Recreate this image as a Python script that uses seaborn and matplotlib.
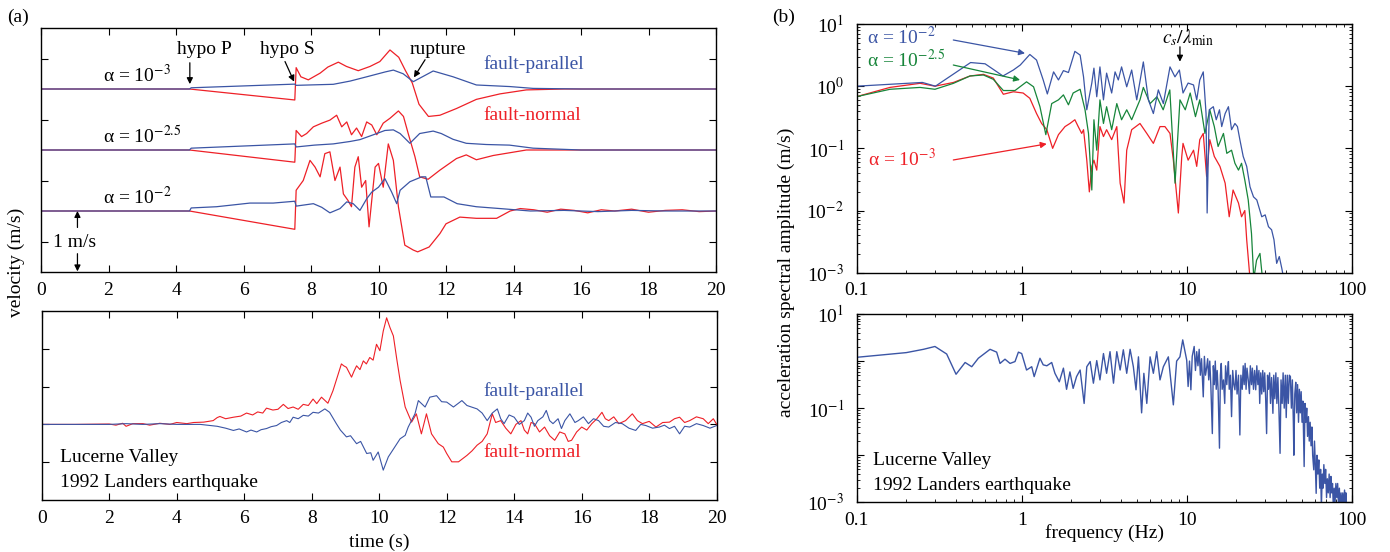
import numpy as np
import pandas as pd
import matplotlib
matplotlib.use("Agg")
import matplotlib.pyplot as plt
import seaborn as sns
from matplotlib.ticker import FixedLocator, FixedFormatter, LogLocator, NullFormatter

BLUE = "#3b55a5"
RED = "#ee2027"
GREEN = "#17853a"

# ---- (a) simulated velocity, (time s, velocity m/s) ----
a3_parallel = [(0, 0), (4.40, 0), (4.45, 0.02), (7.52, 0.08), (7.56, 0.06), (8.66, 0.077),
               (9.16, 0.13), (9.65, 0.2), (10.2, 0.28), (10.44, 0.31), (10.73, 0.25),
               (11.03, 0.12), (11.3, 0.2), (11.62, 0.295), (12.21, 0.2), (12.9, 0.066),
               (13.89, 0.04), (14.58, 0.01), (16, 0), (20, 0)]
a3_normal = [(0, 0), (4.40, 0), (7.52, -0.18), (7.56, 0.35), (7.70, 0.2), (7.92, 0.15),
             (8.27, 0.26), (8.5, 0.36), (8.81, 0.44), (9.05, 0.37), (9.40, 0.3), (9.75, 0.37),
             (10.04, 0.45), (10.34, 0.64), (10.6, 0.52), (10.8, 0.3), (11.0, 0.1),
             (11.2, -0.25), (11.48, -0.45), (11.82, -0.43), (12.31, -0.32), (12.9, -0.17),
             (13.6, -0.08), (14.38, -0.015), (15.5, 0), (20, 0)]
a25_parallel = [(0, 0), (4.40, 0), (4.45, 0.03), (7.52, 0.1), (7.56, 0.05), (8.1, 0.08),
                (8.66, 0.1), (9.16, 0.14), (9.45, 0.17), (9.85, 0.25), (10.19, 0.32),
                (10.44, 0.33), (10.64, 0.27), (10.93, 0.11), (11.22, 0.27), (11.62, 0.31),
                (11.86, 0.27), (12.21, 0.175), (12.6, 0.11), (13.19, 0.09), (13.88, 0.08),
                (14.58, 0.03), (16, 0), (20, 0)]
a25_normal = [(0, 0), (4.40, 0), (7.52, -0.2), (7.56, 0.32), (7.72, 0.22), (7.87, 0.27),
              (8.07, 0.38), (8.32, 0.44), (8.56, 0.49), (8.76, 0.57), (8.91, 0.38), (9.06, 0.46),
              (9.2, 0.25), (9.35, 0.36), (9.5, 0.22), (9.65, 0.46), (9.8, 0.41), (9.95, 0.25),
              (10.14, 0.44), (10.34, 0.52), (10.59, 0.64), (10.74, 0.55), (10.88, 0.27),
              (11.08, -0.11), (11.22, -0.44), (11.47, -0.48), (11.82, -0.33), (12.31, -0.14),
              (12.6, -0.08), (12.9, -0.16), (13.4, -0.09), (14.38, 0), (16, 0), (20, 0)]
a2_parallel = [(0, 0), (4.40, 0), (4.45, 0.05), (5.2, 0.07), (5.7, 0.1), (6.19, 0.13),
               (6.88, 0.13), (7.52, 0.16), (7.56, 0.08), (8.07, 0.12), (8.32, 0.06),
               (8.56, -0.03), (8.86, 0.04), (9.06, 0.15), (9.25, 0.12), (9.45, 0.01),
               (9.65, 0.2), (9.8, 0.31), (10.0, 0.39), (10.19, 0.53), (10.39, 0.31),
               (10.54, 0.12), (10.64, 0.34), (10.93, 0.48), (11.28, 0.56), (11.4, 0.56),
               (11.55, 0.23), (11.94, 0.23), (12.33, 0.12), (12.9, 0.07), (13.6, 0.04),
               (14.5, 0.0), (15.5, 0.01), (16.5, -0.01), (17.5, 0.01), (18.5, 0.0), (20, 0)]
a2_normal = [(0, 0), (4.40, 0), (7.52, -0.3), (7.56, 0.34), (7.77, 0.5), (7.97, 0.83),
             (8.12, 0.72), (8.27, 0.56), (8.41, 0.94), (8.56, 0.97), (8.71, 0.5), (8.86, 0.72),
             (8.96, 0.28), (9.1, 0.17), (9.2, 0.07), (9.3, 0.72), (9.4, 0.89), (9.5, 0.39),
             (9.62, 0.5), (9.72, -0.26), (9.9, 0.72), (10.0, 0.78), (10.14, 0.39), (10.29, 1.1),
             (10.44, 0.83), (10.59, 0.07), (10.78, -0.56), (11.03, -0.64), (11.16, -0.67),
             (11.5, -0.59), (11.82, -0.37), (12.0, -0.21), (12.41, -0.1), (12.9, -0.12),
             (13.5, -0.12), (13.9, 0.0), (14.2, 0.04), (14.6, 0.02), (15.0, -0.02),
             (15.4, 0.03), (15.8, 0.01), (16.2, -0.03), (16.6, 0.02), (17.0, 0.0),
             (17.5, 0.03), (18.0, -0.02), (18.5, 0.01), (19.0, 0.02), (19.5, -0.01), (20, 0)]

# ---- (a) recorded velocity, Lucerne Valley ----
rec_parallel = [(0, 0), (2, 0.0), (2.5, 0.02), (3, 0.0), (3.5, 0.02), (4, 0.0), (4.7, 0),
                (5.2, -0.05), (5.45, -0.1), (5.68, -0.16), (5.85, -0.12), (6.07, -0.2),
                (6.2, -0.15), (6.37, -0.2), (6.5, -0.14), (6.66, -0.11), (6.8, -0.06),
                (6.96, -0.03), (7.1, 0.05), (7.26, 0.1), (7.35, 0.05), (7.45, 0.19),
                (7.6, 0.15), (7.75, 0.24), (7.9, 0.22), (8.04, 0.32), (8.2, 0.3), (8.39, 0.41),
                (8.53, 0.32), (8.73, 0.02), (8.85, -0.15), (9.03, -0.33), (9.15, -0.3),
                (9.33, -0.51), (9.45, -0.45), (9.63, -0.77), (9.75, -0.75), (9.82, -0.95),
                (9.97, -0.73), (10.12, -1.21), (10.27, -0.86), (10.46, -0.6), (10.62, -0.38),
                (10.77, -0.29), (10.86, -0.07), (11.06, 0.28), (11.16, 0.63), (11.36, 0.46),
                (11.5, 0.72), (11.7, 0.76), (11.85, 0.6), (12.0, 0.59), (12.2, 0.46),
                (12.45, 0.63), (12.6, 0.5), (12.9, 0.41), (13.05, 0.3), (13.2, 0.1),
                (13.35, 0.3), (13.5, 0.41), (13.6, 0.15), (13.7, 0.02), (13.85, 0.25),
                (14.0, 0.19), (14.15, 0.0), (14.3, 0.1), (14.4, 0.3), (14.5, 0.19), (14.6, -0.05),
                (14.7, 0.1), (14.85, 0.2), (14.95, 0.37), (15.05, 0.1), (15.15, 0.02),
                (15.3, 0.15), (15.4, -0.11), (15.5, 0.1), (15.65, 0.28), (15.8, 0.05),
                (15.9, 0.1), (16.05, 0.2), (16.2, 0.02), (16.35, 0.15), (16.5, 0.1),
                (16.65, -0.05), (16.8, -0.07), (17.0, 0.05), (17.2, 0.02), (17.4, -0.1),
                (17.6, -0.16), (17.75, 0.0), (17.9, -0.03), (18.1, -0.1), (18.3, -0.07),
                (18.45, -0.02), (18.6, -0.11), (18.75, -0.05), (18.9, -0.25), (19.05, -0.05),
                (19.2, -0.07), (19.4, 0.02), (19.6, -0.03), (19.8, -0.1), (20.0, -0.03)]
rec_normal = [(0, 0), (1.0, 0), (2.0, 0.01), (2.2, -0.02), (2.4, 0.03), (2.5, -0.05),
              (2.7, 0.02), (3.0, 0.02), (3.2, -0.02), (3.5, 0.03), (3.8, 0.0), (4.0, 0.05),
              (4.3, 0.02), (4.5, 0.05), (4.8, 0.06), (5.08, 0.1), (5.2, 0.18), (5.28, 0.21),
              (5.45, 0.15), (5.68, 0.19), (5.9, 0.22), (6.07, 0.3), (6.25, 0.25), (6.4, 0.33),
              (6.55, 0.3), (6.66, 0.43), (6.85, 0.38), (7.0, 0.4), (7.16, 0.53), (7.3, 0.42),
              (7.45, 0.46), (7.6, 0.4), (7.75, 0.53), (7.9, 0.5), (8.04, 0.67), (8.15, 0.55),
              (8.29, 0.72), (8.48, 0.56), (8.63, 0.89), (8.88, 1.6), (8.95, 1.55), (9.03, 1.51),
              (9.18, 1.25), (9.25, 1.4), (9.33, 1.55), (9.43, 1.45), (9.53, 1.68), (9.62, 1.6),
              (9.72, 1.77), (9.82, 1.7), (9.92, 2.12), (10.02, 1.95), (10.12, 2.47),
              (10.22, 2.82), (10.32, 2.56), (10.42, 2.34), (10.52, 1.73), (10.62, 1.16),
              (10.77, 0.46), (10.96, 0.06), (11.1, 0.28), (11.25, -0.25), (11.4, 0.28),
              (11.55, -0.25), (11.75, -0.51), (11.9, -0.6), (12.0, -0.77), (12.15, -0.99),
              (12.35, -0.99), (12.6, -0.82), (12.75, -0.7), (12.9, -0.55), (13.05, -0.45),
              (13.2, -0.25), (13.35, 0.28), (13.45, 0.05), (13.6, 0.1), (13.75, -0.1),
              (13.9, -0.25), (14.05, 0.0), (14.2, 0.1), (14.3, -0.15), (14.4, -0.25),
              (14.5, 0.05), (14.6, 0.02), (14.75, -0.2), (14.9, -0.07), (15.05, -0.3),
              (15.2, -0.42), (15.35, -0.2), (15.5, -0.25), (15.6, -0.45), (15.7, -0.42),
              (15.85, -0.2), (16.0, -0.07), (16.15, -0.15), (16.3, 0.02), (16.45, 0.15),
              (16.6, 0.32), (16.7, 0.15), (16.8, 0.1), (16.95, 0.2), (17.1, 0.02), (17.3, 0.1),
              (17.5, 0.28), (17.65, 0.1), (17.8, 0.02), (18.0, 0.08), (18.2, -0.07),
              (18.4, 0.05), (18.6, 0.06), (18.75, 0.15), (18.9, 0.19), (19.05, 0.05),
              (19.2, 0.1), (19.4, 0.2), (19.6, 0.15), (19.75, 0.02), (19.9, 0.15), (20.0, 0.0)]

# ---- (b) spectra, (frequency Hz, log10 amplitude m/s) ----
spec_a2 = [(0.10, 0.0), (0.25, 0.06), (0.30, 0.0), (0.49, 0.38), (0.60, 0.36), (0.77, 0.164),
           (0.89, 0.26), (0.98, 0.34), (1.12, 0.51), (1.23, 0.42), (1.35, 0.1), (1.43, -0.125),
           (1.56, 0.23), (1.67, 0.1), (1.79, 0.25), (1.92, 0.22), (2.1, 0.56), (2.26, 0.5),
           (2.37, 0.15), (2.48, -0.38), (2.66, 0.05), (2.74, 0.29), (2.85, -0.17), (2.98, 0.31),
           (3.13, -0.22), (3.27, 0.21), (3.51, -0.11), (3.68, 0.23), (3.85, 0.1), (4.03, 0.31),
           (4.33, -0.01), (4.64, 0.26), (4.98, -0.22), (5.46, 0.39), (5.86, -0.22),
           (6.28, -0.44), (6.73, -0.06), (7.22, -0.28), (7.92, 0.31), (8.49, 0.15), (9.03, 0.26),
           (9.5, -0.11), (10.2, 0.05), (11.0, 0.02), (11.5, -0.22), (12.0, 0.1), (12.6, 0.23),
           (13.1, -0.44), (13.3, -2.04), (13.7, -0.38), (14.5, -0.33), (15.1, -0.54),
           (15.8, -0.38), (16.3, -0.65), (17.1, -0.44), (17.9, -0.33), (18.7, -0.7),
           (19.6, -0.6), (20.3, -0.65), (21.0, -0.86), (22.0, -1.13), (23.1, -1.29),
           (24.2, -1.62), (25.4, -1.78), (26.6, -1.83), (28.5, -2.1), (29.9, -2.07),
           (31.3, -2.26), (32.7, -2.31), (33.8, -2.47), (35.1, -2.85), (36.4, -2.74),
           (37.7, -2.93), (38.5, -3.06)]
spec_a25 = [(0.10, -0.168), (0.159, -0.05), (0.242, -0.02), (0.298, -0.05), (0.386, 0.046),
            (0.486, 0.164), (0.586, 0.18), (0.673, 0.11), (0.774, -0.07), (0.911, -0.07),
            (1.07, 0.07), (1.18, -0.01), (1.29, -0.33), (1.40, -0.78), (1.52, -0.28),
            (1.67, -0.22), (1.79, -0.14), (1.92, -0.3), (2.05, -0.11), (2.26, -0.05),
            (2.42, -0.38), (2.54, -0.76), (2.66, -1.67), (2.74, -0.54), (2.85, -1.03),
            (2.98, -0.22), (3.13, -0.6), (3.27, -0.33), (3.51, -0.7), (3.77, -0.28),
            (4.03, -0.54), (4.33, -0.38), (4.64, -0.54), (5.21, -0.22), (5.46, -0.02),
            (6.0, -0.28), (6.6, -0.17), (7.2, -0.38), (7.9, -0.06), (8.5, -1.56), (9.1, -0.22),
            (9.8, -0.38), (10.5, -0.11), (11.3, -0.49), (12.0, -0.22), (12.9, -0.76),
            (13.8, -0.38), (14.7, -0.65), (15.5, -0.97), (16.7, -0.76), (17.5, -1.08),
            (18.7, -1.03), (19.6, -1.24), (20.6, -1.35), (21.5, -1.24), (22.5, -1.51),
            (23.6, -1.83), (24.7, -2.37), (25.5, -3.1), (26.5, -2.8), (27.8, -2.69),
            (28.8, -3.1)]
spec_a3 = [(0.10, -0.168), (0.159, -0.02), (0.242, 0.046), (0.298, 0.0), (0.386, 0.06),
           (0.486, 0.164), (0.586, 0.19), (0.673, 0.13), (0.774, -0.13), (0.89, -0.09),
           (1.02, -0.11), (1.12, -0.195), (1.23, -0.44), (1.32, -0.6), (1.42, -0.7),
           (1.54, -1.0), (1.67, -0.78), (1.83, -0.65), (1.96, -0.6), (2.1, -0.54), (2.2, -0.65),
           (2.31, -0.76), (2.37, -0.7), (2.48, -1.19), (2.57, -1.7), (2.66, -1.29),
           (2.74, -1.19), (2.85, -1.35), (2.98, -0.65), (3.13, -0.81), (3.27, -0.7),
           (3.51, -0.86), (3.77, -0.65), (3.95, -1.56), (4.17, -1.88), (4.33, -1.03),
           (4.64, -0.7), (5.21, -0.6), (5.73, -0.76), (6.28, -0.92), (6.89, -0.65),
           (7.38, -0.65), (7.92, -0.76), (8.3, -1.19), (8.9, -2.04), (9.33, -1.14),
           (9.5, -0.92), (10.2, -1.19), (11.0, -1.03), (11.5, -1.29), (12.0, -0.86),
           (12.6, -0.76), (13.2, -1.45), (13.8, -0.86), (14.7, -1.13), (15.9, -1.29),
           (17.1, -1.56), (18.1, -2.1), (19.1, -1.67), (20.6, -1.88), (21.5, -2.1),
           (22.5, -2.0), (23.1, -2.47), (24.2, -3.1)]
spec_rec = [(0.1, 0.08), (0.2, 0.18), (0.254, 0.25), (0.298, 0.31), (0.351, 0.15), (0.4, -0.28),
            (0.454, -0.03), (0.498, -0.12), (0.546, 0.06), (0.643, 0.25), (0.705, 0.19),
            (0.739, -0.05), (0.792, 0.04), (0.85, -0.05), (0.911, -0.01), (0.955, 0.19),
            (1.0, 0.16), (1.07, -0.19), (1.15, -0.12), (1.19, -0.33), (1.29, 0.06),
            (1.35, -0.08), (1.42, -0.1), (1.52, -0.03), (1.59, -0.26), (1.69, -0.44),
            (1.79, -0.15), (1.87, -0.6), (1.96, -0.23), (2.05, -0.58), (2.15, -0.33),
            (2.26, -0.19), (2.39, -0.9), (2.48, -0.12), (2.6, -0.01), (2.72, -0.47),
            (2.85, 0.01), (2.98, -0.4), (3.13, 0.16), (3.27, -0.26), (3.43, 0.2), (3.6, -0.47),
            (3.77, 0.2), (3.95, -0.19), (4.13, 0.24), (4.33, -0.26), (4.54, 0.25),
            (4.75, -0.12), (4.93, -0.61), (5.1, 0.09), (5.33, -1.1), (5.5, -0.26), (5.73, -0.9),
            (6.0, 0.09), (6.28, -0.26), (6.58, 0.2), (6.89, -0.4), (7.22, -0.12), (7.74, 0.09),
            (8.3, -0.93), (8.69, 0.0), (9.1, 0.09), (9.46, 0.45), (10.0, 0.02),
            (10.2, -0.54), (10.4, 0.0), (10.6, -0.61), (10.8, 0.1), (11.1, 0.31), (11.3, -0.2),
            (11.5, 0.2), (11.7, -0.1), (11.9, 0.25), (12.1, -0.3), (12.3, 0.05), (12.6, -0.76),
            (12.8, 0.1), (13.0, -0.3), (13.2, -0.15), (13.4, 0.05), (13.6, -0.4), (13.8, 0.0),
            (14.0, -0.5), (14.3, -1.54), (14.5, -0.1), (14.7, -0.5), (14.9, 0.0), (15.1, -0.6),
            (15.3, -0.2), (15.5, -0.6), (15.8, -1.85), (16.0, -0.3), (16.2, -0.05),
            (16.4, -0.6), (16.7, -0.4), (17.0, -0.9), (17.2, -0.1), (17.5, -0.5), (17.7, -0.2),
            (17.9, -0.01), (18.1, -0.6), (18.4, -0.3), (18.7, -1.18), (19.0, -0.2),
            (19.3, -0.5), (19.6, -0.61), (19.9, -0.2), (20.2, -0.7), (20.6, -0.3),
            (21.0, -1.57), (21.3, -0.3), (21.7, -0.6), (22.0, -0.1), (22.3, -0.5),
            (22.6, -0.05), (22.9, -0.6), (23.2, -0.15), (23.6, -0.4), (24.0, -0.69),
            (24.3, -0.1), (24.7, -0.5), (25.0, -0.15), (25.4, -0.6), (25.8, -0.2),
            (26.2, -0.61), (26.6, -0.1), (27.0, -0.5), (27.4, -0.2), (27.7, -0.9),
            (28.1, -0.25), (28.5, -0.7), (28.9, -0.2), (29.3, -0.65), (29.7, -0.25),
            (30.1, -0.8), (30.5, -1.54), (30.9, -0.3), (31.3, -0.6), (31.8, -0.25),
            (32.2, -0.9), (32.7, -0.35), (33.3, -1.11), (33.7, -0.3), (34.2, -0.8),
            (34.7, -0.25), (35.2, -0.9), (35.7, -0.35), (36.2, -1.0), (36.8, -1.96),
            (37.3, -0.4), (37.9, -0.9), (38.4, -0.25), (39.0, -1.0), (39.6, -0.3),
            (40.1, -1.2), (40.7, -0.3), (41.3, -0.9), (41.9, -0.3), (42.5, -0.33),
            (43.1, -1.0), (43.7, -0.4), (44.3, -1.3), (44.6, -2.0), (45.2, -0.7),
            (45.8, -0.45), (46.4, -1.1), (47.0, -0.5), (47.6, -1.3), (48.2, -0.6),
            (48.8, -1.1), (49.4, -0.65), (50.0, -1.3), (50.6, -0.85), (51.5, -2.24),
            (52.1, -0.9), (52.7, -1.3), (53.4, -1.0), (54.0, -1.6), (54.7, -1.18),
            (55.3, -1.7), (56.0, -1.3), (56.7, -1.8), (57.4, -1.4), (58.0, -2.0),
            (58.9, -2.31), (59.5, -1.7), (60.2, -2.2), (60.9, -2.81), (61.6, -2.0),
            (62.4, -2.4), (63.2, -2.1), (64.0, -2.7), (64.8, -2.3), (65.5, -3.1),
            (66.3, -2.4), (67.0, -2.7), (67.8, -2.2), (68.7, -2.6), (69.5, -2.3),
            (70.4, -2.9), (71.2, -2.5), (72.1, -2.8), (73.0, -2.4), (74.0, -2.9),
            (74.8, -2.45), (75.6, -2.8), (76.5, -2.6), (77.4, -3.1), (78.3, -2.7),
            (79.3, -3.0), (80.2, -2.6), (81.2, -2.9), (82.2, -2.6), (83.2, -3.1),
            (84.2, -2.7), (85.2, -3.2), (86.2, -2.8), (87.3, -3.1), (88.3, -2.8),
            (89.4, -3.1), (90.5, -2.74), (91.6, -3.0), (92.3, -2.8), (93.0, -3.2),
            (94.0, -3.1)]

time_ticks = [0, 2, 4, 6, 8, 10, 12, 14, 16, 18, 20]
freq_ticks = [0.1, 1, 10, 100]
freq_labels = ["0.1", "1", "10", "100"]

sns.set_style("ticks")
plt.rcParams.update({
    "font.family": ["Liberation Serif", "DejaVu Serif"],
    "mathtext.fontset": "stix",
    "font.size": 14,
    "xtick.labelsize": 14, "ytick.labelsize": 14,
    "xtick.direction": "in", "ytick.direction": "in",
    "xtick.top": True, "ytick.right": True,
    "xtick.major.size": 5, "ytick.major.size": 5,
    "xtick.minor.size": 2.5, "ytick.minor.size": 2.5,
    "xtick.major.pad": 7, "ytick.major.pad": 7,
    "axes.linewidth": 1.0, "axes.edgecolor": "black",
    "xtick.color": "black", "ytick.color": "black",
    "text.color": "black",
})


def draw(ax, pairs, color, offset=0.0, lw=0.9):
    df = pd.DataFrame(pairs, columns=["x", "y"])
    df["y"] = df["y"] + offset
    sns.lineplot(data=df, x="x", y="y", ax=ax, color=color, lw=lw,
                 estimator=None, sort=False)
    ax.set(xlabel="", ylabel="")


def draw_spec(ax, pairs, color, lw=0.9):
    df = pd.DataFrame(pairs, columns=["f", "logA"])
    df["A"] = 10.0 ** df["logA"]
    sns.lineplot(data=df, x="f", y="A", ax=ax, color=color, lw=lw,
                 estimator=None, sort=False)
    ax.set(xlabel="", ylabel="")


def arrow(ax, start, end, color="black"):
    ax.annotate("", xy=end, xytext=start,
                arrowprops=dict(arrowstyle="-|>", color=color, lw=0.9,
                                mutation_scale=9, shrinkA=0, shrinkB=0))


W, H = 1390, 552
fig = plt.figure(figsize=(W / 100, H / 100), dpi=100)


def box(l, t, r, b):
    return [l / W, 1 - b / H, (r - l) / W, (b - t) / H]


ax1 = fig.add_axes(box(41, 28, 716, 272))
ax2 = fig.add_axes(box(41.7, 311, 716.7, 500))
ax3 = fig.add_axes(box(856.7, 24, 1351.7, 272.7))
ax4 = fig.add_axes(box(856.7, 314, 1351.7, 502.3))

# ---------------- (a) top: simulations ----------------
for pars, nors, off in [(a3_parallel, a3_normal, 1.5),
                        (a25_parallel, a25_normal, 0.5),
                        (a2_parallel, a2_normal, -0.5)]:
    draw(ax1, nors, RED, off)
    draw(ax1, pars, BLUE, off)

ax1.set_xlim(0, 20)
ax1.set_ylim(-1.5, 2.5)
ax1.xaxis.set_major_locator(FixedLocator(time_ticks))
ax1.yaxis.set_major_locator(FixedLocator([-1, 0, 1, 2]))
ax1.set_yticklabels([])

ax1.text(4.03, 2.08, "hypo P")
arrow(ax1, (4.41, 1.93), (4.41, 1.58))
ax1.text(6.49, 2.08, "hypo S")
arrow(ax1, (7.23, 1.95), (7.5, 1.62))
ax1.text(10.93, 2.08, "rupture")
arrow(ax1, (11.38, 1.98), (11.05, 1.69))
ax1.text(13.1, 1.83, "fault-parallel", color=BLUE)
ax1.text(13.1, 0.995, "fault-normal", color=RED)
ax1.text(1.85, 1.61, r"α = 10$^{-3}$")
ax1.text(1.85, 0.60, r"α = 10$^{-2.5}$")
ax1.text(1.85, -0.39, r"α = 10$^{-2}$")
ax1.text(0.36, -1.09, "1 m/s")
arrow(ax1, (1.08, -0.77), (1.08, -0.5))
arrow(ax1, (1.08, -1.2), (1.08, -1.49))

# ---------------- (a) bottom: recording ----------------
draw(ax2, rec_normal, RED, lw=0.8)
draw(ax2, rec_parallel, BLUE, lw=0.8)
ax2.set_xlim(0, 20)
ax2.set_ylim(-2, 3)
ax2.xaxis.set_major_locator(FixedLocator(time_ticks))
ax2.yaxis.set_major_locator(FixedLocator([-1, 0, 1, 2]))
ax2.set_yticklabels([])
ax2.text(13.1, 0.76, "fault-parallel", color=BLUE)
ax2.text(13.1, -0.86, "fault-normal", color=RED)
ax2.text(0.54, -0.99, "Lucerne Valley")
ax2.text(0.54, -1.65, "1992 Landers earthquake")
ax2.text(0.5, -0.222, "time (s)", transform=ax2.transAxes, ha="center", va="center")

# ---------------- (b) spectra ----------------
for ax in (ax3, ax4):
    ax.set_xscale("log")
    ax.set_yscale("log")

draw_spec(ax3, spec_a3, RED)
draw_spec(ax3, spec_a25, GREEN)
draw_spec(ax3, spec_a2, BLUE)
draw_spec(ax4, spec_rec, BLUE, lw=1.0)

for ax in (ax3, ax4):
    ax.set_xlim(0.1, 100)
    ax.set_ylim(1e-3, 10)
    ax.xaxis.set_major_locator(FixedLocator(freq_ticks))
    ax.xaxis.set_major_formatter(FixedFormatter(freq_labels))
    ax.xaxis.set_minor_locator(LogLocator(base=10, subs=np.arange(2, 10)))
    ax.xaxis.set_minor_formatter(NullFormatter())
    ax.yaxis.set_minor_locator(LogLocator(base=10, subs=np.arange(2, 10)))
    ax.yaxis.set_minor_formatter(NullFormatter())
    ax.tick_params(axis="y", which="major", pad=9)

ax3.yaxis.set_major_locator(FixedLocator([1e-3, 1e-2, 1e-1, 1, 10]))
ax3.yaxis.set_major_formatter(FixedFormatter([r"10$^{-3}$", r"10$^{-2}$", r"10$^{-1}$",
                                              r"10$^{0}$", r"10$^{1}$"]))
ax4.yaxis.set_major_locator(FixedLocator([1e-3, 1e-2, 1e-1, 1, 10]))
ax4.yaxis.set_major_formatter(FixedFormatter([r"10$^{-3}$", "", r"10$^{-1}$", "", r"10$^{1}$"]))

ax3.text(0.115, 4.72, r"α = 10$^{-2}$", color=BLUE)
arrow(ax3, (0.385, 5.53), (1.047, 3.38), BLUE)
ax3.text(0.115, 1.99, r"α = 10$^{-2.5}$", color=GREEN)
arrow(ax3, (0.385, 2.19), (0.977, 1.26), GREEN)
ax3.text(0.1175, 0.0521, r"α = 10$^{-3}$", color=RED)
arrow(ax3, (0.385, 0.065), (1.418, 0.118), RED)
ax3.text(7.05, 4.9, r"$c_s/\lambda_{\rm min}$")
arrow(ax3, (9.1, 4.3), (9.1, 2.48))

ax4.text(0.126, 0.0062, "Lucerne Valley")
ax4.text(0.126, 0.00182, "1992 Landers earthquake")
ax4.text(0.5, -0.163, "frequency (Hz)", transform=ax4.transAxes, ha="center", va="center")

fig.text(16 / W, 1 - 262 / H, "velocity (m/s)", rotation=90, ha="center", va="center")
fig.text(786 / W, 1 - 272 / H, "acceleration spectral amplitude (m/s)", rotation=90,
         ha="center", va="center")
fig.text(7 / W, 1 - 17 / H, "(a)", va="center")
fig.text(772 / W, 1 - 17 / H, "(b)", va="center")

fig.savefig("out.png", dpi=100)
